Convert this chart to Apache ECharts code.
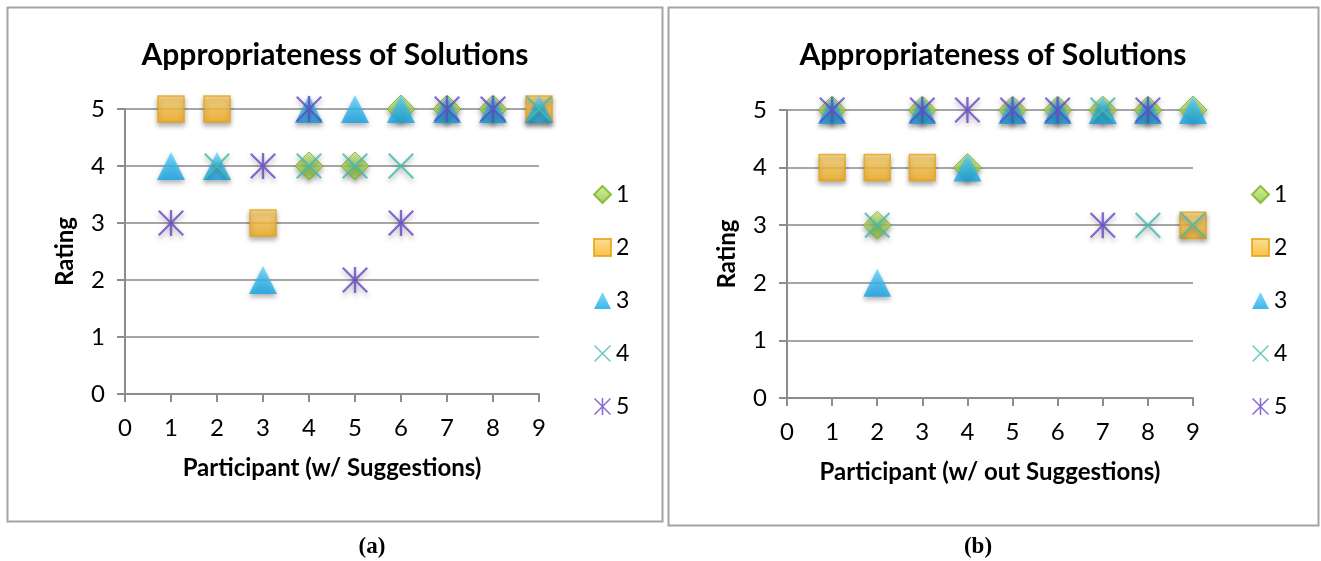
<!DOCTYPE html>
<html>
<head>
<meta charset="utf-8">
<script src="https://cdn.jsdelivr.net/npm/echarts@6/dist/echarts.min.js"></script>
<style>
  html, body { margin: 0; padding: 0; background: #ffffff; }
  #chart { width: 1321px; height: 561px; }
</style>
</head>
<body>
<div id="chart"></div>
<script>
// Participants on the x axis
const participants = [1, 2, 3, 4, 5, 6, 7, 8, 9];
const seriesNames = ['1', '2', '3', '4', '5'];
const xTicks = [0, 1, 2, 3, 4, 5, 6, 7, 8, 9];
const yTicks = [0, 1, 2, 3, 4, 5];

// Ratings per solution (null = no mark shown), panel (a): with suggestions
const withSug1 = [null, null, null, 4, 4, 5, 5, 5, null];
const withSug2 = [5, 5, 3, null, null, null, null, null, 5];
const withSug3 = [4, 4, 2, 5, 5, 5, 5, 5, 5];
const withSug4 = [null, 4, null, 4, 4, 4, null, null, 5];
const withSug5 = [3, null, 4, 5, 2, 3, 5, 5, null];

// Panel (b): without suggestions
const withoutSug1 = [5, 3, 5, 4, 5, 5, 5, 5, 5];
const withoutSug2 = [4, 4, 4, null, null, null, null, null, 3];
const withoutSug3 = [5, 2, 5, 4, 5, 5, 5, 5, 5];
const withoutSug4 = [null, 3, null, null, null, null, 5, 3, 3];
const withoutSug5 = [5, null, 5, 5, 5, 5, 3, 5, null];

const panelTitle = 'Appropriateness of Solutions';
const xNameA = 'Participant (w/ Suggestions)';
const xNameB = 'Participant (w/ out Suggestions)';
const yName = 'Rating';

// Marker shapes: thin-stroked cross and asterisk built as filled bars
const crossPath = 'path://M0 6 L6 0 L100 94 L94 100 Z M94 0 L100 6 L6 100 L0 94 Z';
const starPath = 'path://M0 6 L6 0 L100 94 L94 100 Z M94 0 L100 6 L6 100 L0 94 Z M45.5 0 L54.5 0 L54.5 100 L45.5 100 Z';

function grad(top, bottom) {
  return { type: 'linear', x: 0, y: 0, x2: 0, y2: 1,
           colorStops: [{ offset: 0, color: top }, { offset: 1, color: bottom }] };
}

const shadow = { shadowColor: 'rgba(0,0,0,0.38)', shadowBlur: 5, shadowOffsetY: 3 };

const styles = [
  { symbol: 'diamond', size: 28, itemStyle: Object.assign({ color: grad('#c6ea8c', '#8cc732'), borderColor: '#79b020', borderWidth: 1 }, shadow) },
  { symbol: 'rect', size: 26, itemStyle: Object.assign({ color: grad('#fed778', '#f8b01c'), borderColor: '#e9a010', borderWidth: 1.5 }, shadow) },
  { symbol: 'triangle', size: 28, itemStyle: Object.assign({ color: grad('#5fd2fb', '#0fa3e8'), borderWidth: 0 }, shadow) },
  { symbol: crossPath, size: 26, itemStyle: Object.assign({ color: '#40bcb0' }, shadow) },
  { symbol: starPath, size: 26, itemStyle: Object.assign({ color: '#6446c8' }, shadow) }
];

function toPoints(values) {
  const pts = [];
  values.forEach(function (v, i) { if (v !== null) pts.push([participants[i], v]); });
  return pts;
}

const panelA = [withSug1, withSug2, withSug3, withSug4, withSug5];
const panelB = [withoutSug1, withoutSug2, withoutSug3, withoutSug4, withoutSug5];

const series = [];
[panelA, panelB].forEach(function (panel, p) {
  panel.forEach(function (vals, k) {
    series.push({
      type: 'scatter',
      name: seriesNames[k],
      xAxisIndex: p,
      yAxisIndex: p,
      symbol: styles[k].symbol,
      symbolSize: styles[k].size,
      itemStyle: styles[k].itemStyle,
      emphasis: { disabled: true },
      data: toPoints(vals)
    });
  });
});

const FONT = 'Lato, "Open Sans", sans-serif';

function xAxisCfg(idx, name) {
  return {
    type: 'value', gridIndex: idx, min: 0, max: 9, interval: 1,
    name: name, nameLocation: 'middle', nameGap: 62,
    nameTextStyle: { fontFamily: FONT, fontWeight: 'bold', fontSize: 24, color: '#000' },
    axisLine: { show: true, lineStyle: { color: '#8c8c8c', width: 2 } },
    axisTick: { show: true, length: 8, lineStyle: { color: '#8c8c8c', width: 2 } },
    axisLabel: { fontFamily: FONT, fontSize: 24, color: '#000', margin: 22,
                 formatter: function (v) { return xTicks.indexOf(v) >= 0 ? String(v) : ''; } },
    splitLine: { show: false }
  };
}
function yAxisCfg(idx) {
  return {
    type: 'value', gridIndex: idx, min: 0, max: 5, interval: 1,
    name: yName, nameLocation: 'middle', nameGap: 48, nameRotate: 90,
    nameTextStyle: { fontFamily: FONT, fontWeight: 'bold', fontSize: 24, color: '#000' },
    axisLine: { show: true, lineStyle: { color: '#8c8c8c', width: 2 } },
    axisTick: { show: true, length: 8, lineStyle: { color: '#8c8c8c', width: 2 } },
    axisLabel: { fontFamily: FONT, fontSize: 24, color: '#000', margin: 20,
                 formatter: function (v) { return yTicks.indexOf(v) >= 0 ? String(v) : ''; } },
    splitLine: { show: true, lineStyle: { color: '#a6a6a6', width: 2 } }
  };
}

function legendCfg(left) {
  return {
    orient: 'vertical', left: left, top: 178,
    itemWidth: 17, itemHeight: 17, itemGap: 30,
    selectedMode: false,
    textStyle: { fontFamily: FONT, fontSize: 23, color: '#000' },
    itemStyle: { shadowBlur: 0, shadowOffsetY: 0, shadowColor: 'transparent' },
    data: seriesNames.map(function (n, k) { return { name: n, icon: styles[k].symbol }; })
  };
}

const chart = echarts.init(document.getElementById('chart'), null, { renderer: 'canvas' });
chart.setOption({
  backgroundColor: '#ffffff',
  animation: false,
  grid: [
    { left: 125, top: 109, width: 414, height: 285 },
    { left: 787, top: 110, width: 406, height: 288 }
  ],
  xAxis: [xAxisCfg(0, xNameA), xAxisCfg(1, xNameB)],
  yAxis: [yAxisCfg(0), yAxisCfg(1)],
  legend: [legendCfg(588), legendCfg(1246)],
  graphic: [
    { type: 'rect', shape: { x: 7.5, y: 7.5, width: 655, height: 514 },
      style: { fill: 'none', stroke: '#a3a3a3', lineWidth: 2 }, z: -1 },
    { type: 'rect', shape: { x: 668.5, y: 7.5, width: 650, height: 518 },
      style: { fill: 'none', stroke: '#a3a3a3', lineWidth: 2 }, z: -1 },
    { type: 'text', x: 335, y: 55,
      style: { text: panelTitle, fontFamily: FONT, fontWeight: 'bold', fontSize: 30, fill: '#000',
               textAlign: 'center', textVerticalAlign: 'middle' } },
    { type: 'text', x: 993, y: 55,
      style: { text: panelTitle, fontFamily: FONT, fontWeight: 'bold', fontSize: 30, fill: '#000',
               textAlign: 'center', textVerticalAlign: 'middle' } },
    { type: 'text', x: 372, y: 547,
      style: { text: '(a)', fontFamily: '"Liberation Serif", "Times New Roman", serif', fontWeight: 'bold',
               fontSize: 23, fill: '#000', textAlign: 'center', textVerticalAlign: 'middle' } },
    { type: 'text', x: 978, y: 547,
      style: { text: '(b)', fontFamily: '"Liberation Serif", "Times New Roman", serif', fontWeight: 'bold',
               fontSize: 23, fill: '#000', textAlign: 'center', textVerticalAlign: 'middle' } }
  ],
  series: series
});
</script>
</body>
</html>
